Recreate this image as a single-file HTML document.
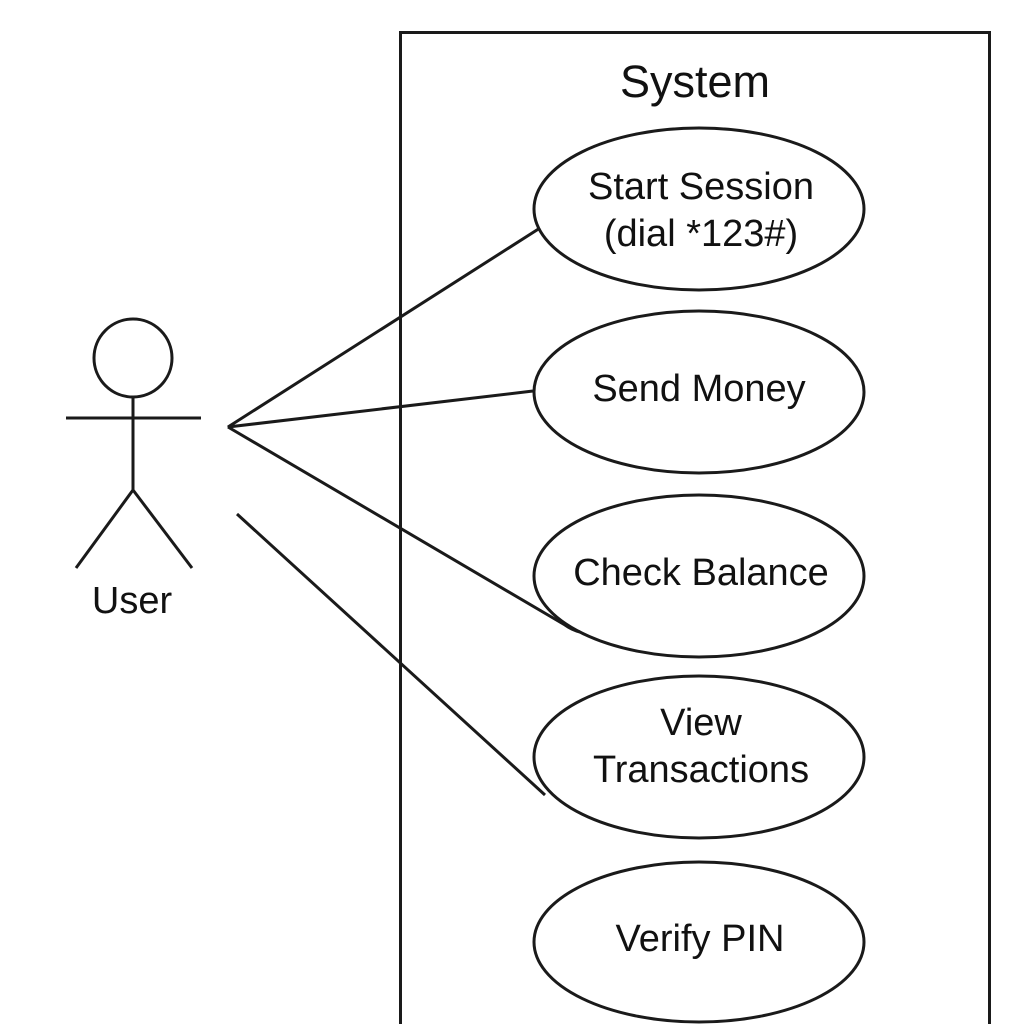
<!DOCTYPE html>
<html><head><style>html,body{margin:0;padding:0;background:#fff}</style></head>
<body>
<svg width="1024" height="1024" viewBox="0 0 1024 1024" xmlns="http://www.w3.org/2000/svg" style="display:block">
<g fill="none" stroke="#1a1a1a" stroke-width="3">
<rect x="400.5" y="32.5" width="589" height="1000"/>
<ellipse cx="699" cy="209" rx="165" ry="81"/>
<ellipse cx="699" cy="392" rx="165" ry="81"/>
<ellipse cx="699" cy="576" rx="165" ry="81"/>
<ellipse cx="699" cy="757" rx="165" ry="81"/>
<ellipse cx="699" cy="942" rx="165" ry="80"/>
<circle cx="133" cy="358" r="39"/>
<line x1="133" y1="397" x2="133" y2="490"/>
<line x1="66" y1="418" x2="201" y2="418"/>
<line x1="133" y1="490" x2="76" y2="568"/>
<line x1="133" y1="490" x2="192" y2="568"/>
<polyline points="540,228 228,427 533,391"/>
<path d="M228,427 L565,625 Q572,630 580,632"/>
<line x1="237" y1="514" x2="545" y2="795"/>
</g>
<g font-family="Liberation Sans, sans-serif" fill="#111" text-anchor="middle" font-size="38">
<text x="695" y="97" font-size="45">System</text>
<text x="701" y="199">Start Session</text>
<text x="701" y="246">(dial *123#)</text>
<text x="699" y="401">Send Money</text>
<text x="701" y="585">Check Balance</text>
<text x="701" y="735">View</text>
<text x="701" y="782">Transactions</text>
<text x="700" y="951">Verify PIN</text>
<text x="132" y="613">User</text>
</g>
</svg>
</body></html>
